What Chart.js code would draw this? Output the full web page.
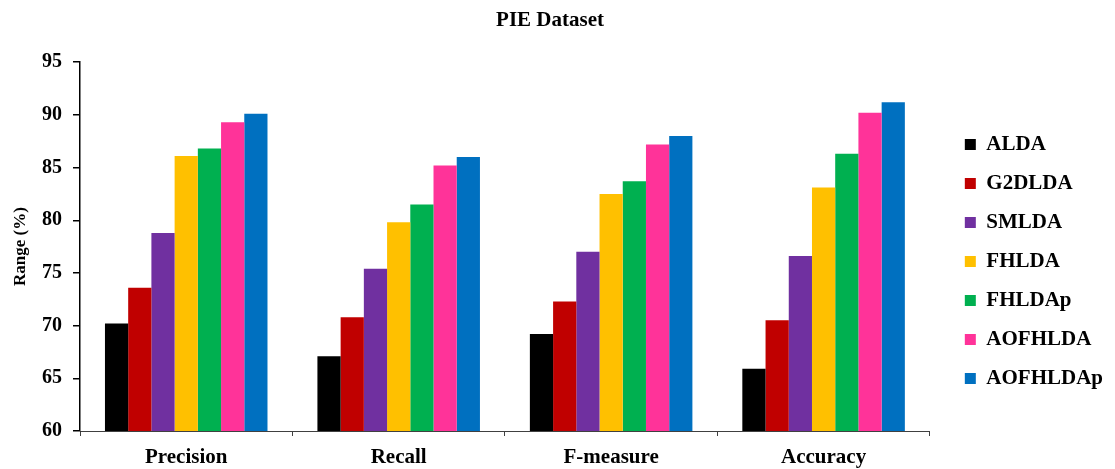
<!DOCTYPE html>
<html>
<head>
<meta charset="utf-8">
<script src="https://cdn.jsdelivr.net/npm/chart.js@4/dist/chart.umd.min.js"></script>
<style>
  html, body { margin: 0; padding: 0; background: #fff; }
  #wrap { width: 1115px; height: 469px; }
</style>
</head>
<body>
<div id="wrap"><canvas id="pie_chart"></canvas></div>
<script>
var metrics = ['Precision', 'Recall', 'F-measure', 'Accuracy'];
var methods = ['ALDA', 'G2DLDA', 'SMLDA', 'FHLDA', 'FHLDAp', 'AOFHLDA', 'AOFHLDAp'];
var colors = ['#000000', '#C00000', '#7030A0', '#FFC000', '#00B050', '#FF3399', '#0070C0'];

// one row per method: Precision, Recall, F-measure, Accuracy
var alda = [70.2, 67.1, 69.2, 65.9];
var g2dlda = [73.6, 70.8, 72.3, 70.5];
var smlda = [78.8, 75.4, 77.0, 76.6];
var fhlda = [86.1, 79.8, 82.5, 83.1];
var fhldap = [86.8, 81.5, 83.7, 86.3];
var aofhlda = [89.3, 85.2, 87.2, 90.2];
var aofhldap = [90.1, 86.0, 88.0, 91.2];

var yTicks = [60, 65, 70, 75, 80, 85, 90, 95];

var series = [alda, g2dlda, smlda, fhlda, fhldap, aofhlda, aofhldap];
var serif = "'Liberation Serif', 'Times New Roman', serif";

var datasets = series.map(function (vals, i) {
    return {
        label: methods[i],
        data: vals,
        backgroundColor: colors[i],
        borderWidth: 0,
        barPercentage: 1.0,
        categoryPercentage: 0.765
    };
});

// push the legend a bit away from the plot and lower down
var legendNudge = {
    id: 'legendNudge',
    afterLayout: function (chart) {
        var l = chart.legend;
        l.left += 17; l.right += 17;
        l.top += 27; l.bottom += 27;
    }
};

new Chart(document.getElementById('pie_chart'), {
    type: 'bar',
    data: { labels: metrics, datasets: datasets },
    plugins: [legendNudge],
    options: {
        responsive: true,
        maintainAspectRatio: false,
        animation: false,
        layout: { padding: { left: 4, right: 19, top: 1, bottom: 1 } },
        plugins: {
            title: {
                display: true,
                text: 'PIE Dataset',
                color: '#000',
                font: { family: serif, size: 21, weight: 'bold' },
                padding: { top: 7, bottom: 29 }
            },
            legend: {
                position: 'right',
                labels: {
                    color: '#000',
                    font: { family: serif, size: 21, weight: 'bold' },
                    boxWidth: 11,
                    boxHeight: 11,
                    padding: 18
                }
            },
            tooltip: { enabled: false }
        },
        scales: {
            x: {
                afterFit: function (axis) { axis.height = 37; },
                grid: { display: true, drawOnChartArea: false, drawTicks: true, tickLength: 5, color: '#404040' },
                border: { color: '#404040', width: 1 },
                ticks: { color: '#000', font: { family: serif, size: 21, weight: 'bold' }, padding: 9 }
            },
            y: {
                min: 60,
                max: 95,
                afterBuildTicks: function (axis) {
                    axis.ticks = yTicks.map(function (v) { return { value: v }; });
                },
                afterFit: function (axis) { axis.width = 76; },
                grid: { display: true, drawOnChartArea: false, drawTicks: true, tickLength: 7, color: '#000', lineWidth: 1.5 },
                border: { color: '#000', width: 1.5 },
                ticks: { color: '#000', font: { family: serif, size: 20, weight: 'bold' }, padding: 11 },
                title: {
                    display: true,
                    text: 'Range (%)',
                    color: '#000',
                    font: { family: serif, size: 17, weight: 'bold' },
                    padding: { top: 6, bottom: 0 }
                }
            }
        }
    }
});
</script>
</body>
</html>
